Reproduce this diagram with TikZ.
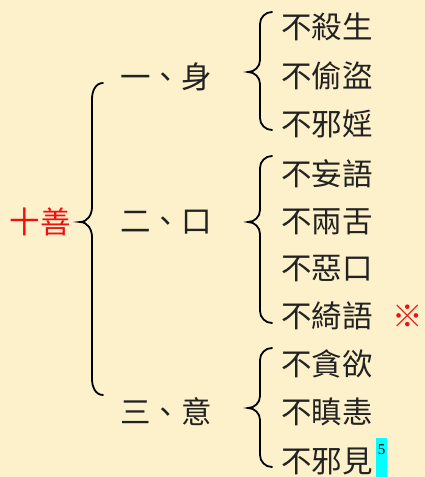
\documentclass[tikz,border=0pt]{standalone}
\usepackage{fontspec}
\newfontfamily\cjk{Noto Sans CJK TC}
\newfontfamily\fnfont{Liberation Serif}
\definecolor{bgc}{HTML}{FDF1CB}
\definecolor{txt}{HTML}{222222}
\definecolor{redc}{HTML}{F01010}
\definecolor{cyanc}{HTML}{00FFFF}
\begin{document}
\begin{tikzpicture}[x=1pt,y=1pt,
  lbl/.style={inner sep=0pt, font=\cjk\fontsize{30.5}{31}\selectfont, text=txt},
  item/.style={lbl, anchor=west},
  brace/.style={line width=1.8pt, draw=black, line cap=round}]
\fill[bgc] (0,0) rectangle (425,477);
\useasboundingbox (0,0) rectangle (425,477);
% root
\node[lbl, text=redc] (root) at (40,255) {十善};
% level 1
\node[lbl] (shen) at (166,400) {一、身};
\node[lbl] (kou) at (166,255) {二、口};
\node[lbl] (yi) at (166,65) {三、意};
% big brace
\draw[brace] (103,394) to[out=180,in=90] (92,378) -- (92,270) to[out=-90,in=0] (80,255) to[out=0,in=90] (92,240) -- (92,98) to[out=-90,in=180] (103,82);
% small braces
\draw[brace] (272,465) to[out=180,in=90] (260,453) -- (260,417) to[out=-90,in=0] (248,405) to[out=0,in=90] (260,393) -- (260,359) to[out=-90,in=180] (272,347);
\draw[brace] (272,321) to[out=180,in=90] (260,309) -- (260,267) to[out=-90,in=0] (248,255) to[out=0,in=90] (260,243) -- (260,166) to[out=-90,in=180] (272,154);
\draw[brace] (272,129) to[out=180,in=90] (260,117) -- (260,81) to[out=-90,in=0] (248,69) to[out=0,in=90] (260,57) -- (260,22) to[out=-90,in=180] (272,10);
% items
\node[item] (a1) at (281,450) {不殺生};
\node[item] (a2) at (281,401) {不偷盜};
\node[item] (a3) at (281,353) {不邪婬};
\node[item] (b1) at (281,303) {不妄語};
\node[item] (b2) at (281,255) {不兩舌};
\node[item] (b3) at (281,208) {不惡口};
\node[item] (b4) at (281,161) {不綺語};
\node[item] (c1) at (281,113) {不貪欲};
\node[item] (c2) at (281,65) {不瞋恚};
\node[item] (c3) at (281,16) {不邪見};
% mark
\node[lbl, text=redc] (mark) at (408,161) {※};
% footnote 5
\fill[cyanc] (376,0) rectangle (387,39);
\node[inner sep=0pt, font=\fnfont\fontsize{15}{15}\selectfont, text=black] (fn) at (381.5,27) {5};
\end{tikzpicture}
\end{document}
